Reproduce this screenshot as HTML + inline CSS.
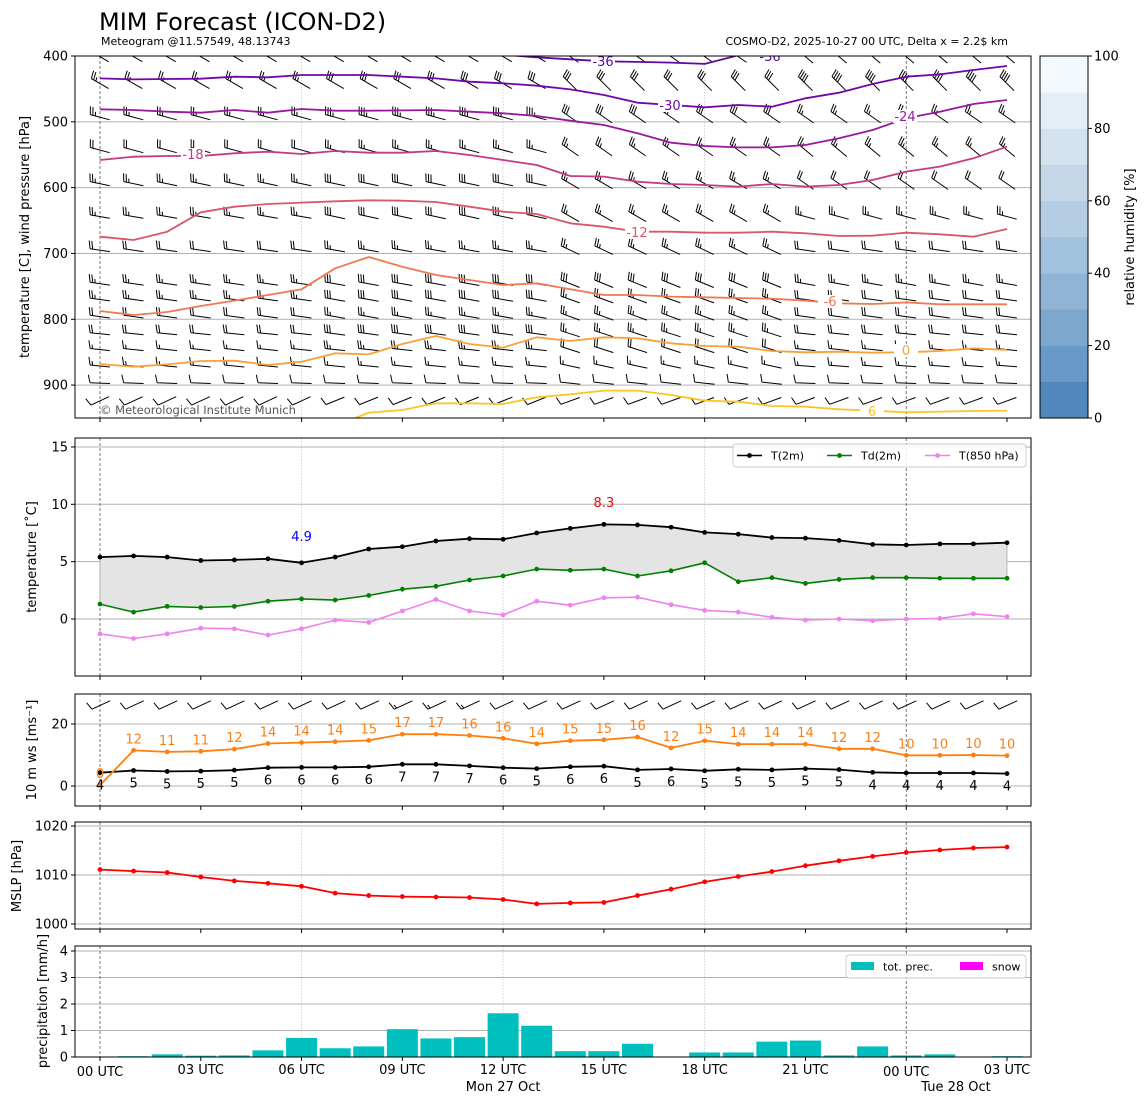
<!DOCTYPE html>
<html><head><meta charset="utf-8">
<style>
html,body{margin:0;padding:0;background:#fff;}
svg{display:block;font-family:"DejaVu Sans","Liberation Sans",sans-serif;}
</style></head>
<body>
<svg id="root" width="1148" height="1105" viewBox="0 0 1148 1105" xmlns="http://www.w3.org/2000/svg">
<defs>
<clipPath id="c1"><rect x="75" y="56" width="956" height="362"/></clipPath>
<clipPath id="c3"><rect x="75" y="694" width="956" height="112"/></clipPath>
</defs>
<text x="99" y="30" font-size="24" fill="#000">MIM Forecast (ICON-D2)</text>
<text x="101" y="45" font-size="11" fill="#000">Meteogram @11.57549, 48.13743</text>
<text x="1008" y="45" font-size="11" fill="#000" text-anchor="end">COSMO-D2, 2025-10-27 00 UTC, Delta x = 2.2$ km</text>
<g id="g1"></g>
<g id="g2"></g>
<g id="g3"></g>
<g id="g4"></g>
<g id="g5"></g>
<g id="gcb"></g>
</svg>
<script>
// ---------- data ----------
const hours = [0,1,2,3,4,5,6,7,8,9,10,11,12,13,14,15,16,17,18,19,20,21,22,23,24,25,26,27];
const t2m = [5.4,5.5,5.4,5.1,5.15,5.25,4.9,5.4,6.1,6.3,6.8,7.0,6.95,7.5,7.9,8.25,8.2,8.0,7.55,7.4,7.1,7.05,6.85,6.5,6.45,6.55,6.55,6.65];
const td2m = [1.3,0.6,1.1,1.0,1.1,1.55,1.75,1.65,2.05,2.6,2.85,3.4,3.75,4.35,4.25,4.35,3.75,4.2,4.9,3.25,3.6,3.1,3.45,3.6,3.6,3.55,3.55,3.55];
const t850 = [-1.3,-1.7,-1.3,-0.8,-0.85,-1.4,-0.85,-0.1,-0.3,0.7,1.7,0.7,0.35,1.55,1.2,1.85,1.9,1.25,0.75,0.6,0.15,-0.1,0,-0.15,0,0.05,0.45,0.2];
const gust = [0.3,11.5,11,11.2,11.9,13.7,14,14.3,14.7,16.7,16.7,16.3,15.4,13.6,14.6,14.9,15.8,12.3,14.6,13.5,13.5,13.5,12,12,9.9,9.9,10,9.8];
const gustLabels = [0,12,11,11,12,14,14,14,15,17,17,16,16,14,15,15,16,12,15,14,14,14,12,12,10,10,10,10];
const ws10 = [4.3,5,4.7,4.8,5.1,5.9,6,6,6.2,7,7,6.5,5.9,5.6,6.2,6.4,5.2,5.5,4.9,5.4,5.2,5.6,5.3,4.4,4.2,4.2,4.2,4.0];
const wsLabels = [4,5,5,5,5,6,6,6,6,7,7,7,6,5,6,6,5,6,5,5,5,5,5,4,4,4,4,4];
const wdir10 = [245,245,245,245,245,245,245,245,245,245,245,245,245,245,245,245,245,245,245,245,245,245,245,245,245,245,245,245];
const mslp = [1011.1,1010.8,1010.5,1009.6,1008.8,1008.3,1007.7,1006.3,1005.8,1005.6,1005.5,1005.4,1005.0,1004.1,1004.3,1004.4,1005.8,1007.1,1008.6,1009.7,1010.7,1011.9,1012.9,1013.8,1014.6,1015.1,1015.5,1015.7];
const precip = [0,0.03,0.1,0.05,0.06,0.25,0.72,0.33,0.4,1.05,0.7,0.75,1.65,1.18,0.22,0.22,0.5,0,0.17,0.17,0.58,0.62,0.06,0.4,0.06,0.1,0,0.03];
const minLabel = {h:6, v:4.9};
const maxLabel = {h:15, v:8.3};
// isotherm contours (pressure hPa per hour)
const iso36Hours = [12,13,14,15,16,17,18,19,20,21,22,23];
const iso36 = [398,402,405,408,409,410,412,399,398,397,396,395];
const iso30 = [434,435.5,435,434.5,431.4,432.4,428.9,428.9,428.9,431.4,434,439,441.5,445.1,450.7,459.3,470.9,474.5,478,474.5,477,464.3,455.7,442.6,431.4,427.9,421.3,415.2];
const iso24 = [481,482.1,484.6,486.1,482.1,486.1,480.5,483.1,483.1,482.6,482.1,484.6,487.1,491.2,498.3,504.8,517.5,531.7,536.7,538.8,538.8,535.2,525.1,512.4,494.7,484.6,472.9,466.9];
const iso18 = [558,553,552,552,547.9,545.4,548.9,544.3,546.9,546.9,544.3,550.4,558,565.6,582.3,583.3,591,594.5,596,598.5,594.5,598.5,596,588.4,575.7,568.1,555.5,537.8];
const iso12 = [674.5,679.5,666.9,637.5,628.9,624.9,622.8,620.8,619.3,619.8,621.8,628.9,636.5,640,654.2,659.3,666.9,666.9,668.4,668.4,666.9,669.4,673.5,673,668.4,670.9,674.5,662.8];
const iso6 = [787.4,793.5,788.9,779.8,771.7,763.1,754.5,722.6,705.4,720.1,732.7,740.3,747.9,745.4,754.5,763.1,763.1,765.6,766.6,767.7,768.7,771.7,775.8,776.8,774.3,777.3,777.3,777.3];
const iso0 = [868,872,868.5,863.4,862.9,869.5,864.4,851.7,853.3,837.5,825.4,837.5,843.1,827.4,833,827.4,828.9,836.5,840.6,841.6,848.2,850.2,849.2,850.7,850.2,848.2,844.1,846.7];
const isoP6Hours = [7,8,9,10,11,12,13,14,15,16,17,18,19,20,21,22,23,24,25,26,27];
const isoP6 = [962,941.9,937.8,927.7,927.7,928.7,918.6,914,908.4,908.4,915,923.6,925.2,931.7,932.8,936.8,938.8,941.4,940.3,939.3,938.8];
// wind barb levels (hPa), direction (from, deg) & speed (kt) per 7h segment
const barbLevels = [401,442,493,543,594,644,695,746,770,796,822,846,871,897,924];
const barbDir = [[300,300,305,310],[300,300,315,315],[285,285,305,305],[285,285,305,310],[282,282,300,305],[280,282,300,285],[278,280,295,278],[278,280,292,280],[278,280,290,278],[278,280,290,278],[276,278,288,276],[276,276,288,276],[276,276,282,274],[272,272,276,272],[245,248,250,250]];
const barbSpd = [[25,25,30,35],[25,30,30,40],[25,35,30,25],[20,25,25,25],[25,30,25,20],[25,30,25,25],[20,25,25,20],[25,30,30,25],[25,30,25,20],[20,25,25,20],[20,30,25,20],[15,25,20,15],[15,15,15,15],[10,10,10,10],[10,10,10,10]];
const tickHours = [0,3,6,9,12,15,18,21,24,27];
const tickNames = ["00 UTC","03 UTC","06 UTC","09 UTC","12 UTC","15 UTC","18 UTC","21 UTC","00 UTC","03 UTC"];
const p1Ticks = [400,500,600,700,800,900];
const p2Ticks = [0,5,10,15];
const p3Ticks = [0,20];
const p4Ticks = [1000,1010,1020];
const p5Ticks = [0,1,2,3,4];
const cbTicks = [0,20,40,60,80,100];

// ---------- helpers ----------
const NS = "http://www.w3.org/2000/svg";
function el(tag, parent){ const e=document.createElementNS(NS,tag); parent.appendChild(e); return e; }
function setA(e, o){ for(const k in o) e.setAttribute(k,o[k]); return e; }
const X = h => 100 + h*33.593;
const L = 75, R = 1031;
const Y1 = p => 56 + (p-400)*362/550;
const Y2 = t => 619 - t*11.47;
const Y3 = v => 786 - v*3.1;
const Y4 = p => 875 - (p-1010)*4.9;
const Y5 = r => 1057 - r*26.5;

function frame(g, top, bot, name){
  const r = el('rect', g);
  setA(r,{x:L,y:top,width:R-L,height:bot-top,fill:'none',stroke:'#000','stroke-width':1});
  
  
}
function vgrid(g, top, bot){
  [0,24].forEach(h=>{
    const l = el('line', g);
    setA(l,{x1:X(h),x2:X(h),y1:top,y2:bot,stroke:'#555','stroke-width':0.8,'stroke-dasharray':'3,2'});
    
    
  });
  [6,12,18].forEach(h=>{
    const l = el('line', g);
    setA(l,{x1:X(h),x2:X(h),y1:top,y2:bot,stroke:'#bbb','stroke-width':0.6,'stroke-dasharray':'1.5,1.5'});
    
    
  });
}
function hgrid(g, ys){
  ys.forEach(y=>{
    const l = el('line', g);
    setA(l,{x1:L,x2:R,y1:y,y2:y,stroke:'#b0b0b0','stroke-width':1});
    
    
  });
}
function yticks(g, vals, fy, fmt){
  vals.forEach(v=>{
    const y = fy(v);
    const t = el('line', g);
    setA(t,{x1:L-4,x2:L,y1:y,y2:y,stroke:'#000'});
    
    
    const tx = el('text', g);
    setA(tx,{x:L-7,y:y+4.5,'font-size':13,'text-anchor':'end'});
    tx.textContent = fmt? fmt(v): v;
    
    
  });
}
function xticks(g, bot){
  tickHours.forEach(h=>{
    const t = el('line', g);
    setA(t,{x1:X(h),x2:X(h),y1:bot,y2:bot+4,stroke:'#000'});
    
    
  });
}
function ylabel(g, x, y, txt){
  const t = el('text', g);
  setA(t,{x:x,y:y,'font-size':13,'text-anchor':'middle',transform:`rotate(-90 ${x} ${y})`});
  t.textContent = txt;
  
  
  return t;
}
function polyline(g, xs, ys, color, w, name){
  const p = el('polyline', g);
  setA(p,{points: xs.map((x,i)=>x.toFixed(1)+','+ys[i].toFixed(1)).join(' '), fill:'none', stroke:color,'stroke-width':w,'stroke-linejoin':'round'});
  
  
  return p;
}
function dots(g, xs, ys, color, r, name){
  xs.forEach((x,i)=>{
    const c = el('circle', g);
    setA(c,{cx:x,cy:ys[i],r:r,fill:color});
    
    
  });
}
function barb(g, cx, cy, dir, spd, len){
  const a = dir*Math.PI/180;
  const dx = Math.sin(a), dy = -Math.cos(a);
  const fx = -dy, fy = dx;
  const x0 = cx - dx*len/2, y0 = cy - dy*len/2;
  const x1 = cx + dx*len/2, y1 = cy + dy*len/2;
  let d = `M${x0.toFixed(1)},${y0.toFixed(1)}L${x1.toFixed(1)},${y1.toFixed(1)}`;
  let n = Math.round(spd/5), pos = 0;
  const fl = len*0.4, sp = len*0.13;
  while(n >= 2){
    const bx = x1 - dx*pos, by = y1 - dy*pos;
    d += `M${bx.toFixed(1)},${by.toFixed(1)}l${(fx*fl+dx*2).toFixed(1)},${(fy*fl+dy*2).toFixed(1)}`;
    pos += sp; n -= 2;
  }
  if(n === 1){
    if(pos===0) pos = sp;
    const bx = x1 - dx*pos, by = y1 - dy*pos;
    d += `M${bx.toFixed(1)},${by.toFixed(1)}l${(fx*fl/2+dx).toFixed(1)},${(fy*fl/2+dy).toFixed(1)}`;
  }
  const p = el('path', g);
  setA(p,{d:d, fill:'none', stroke:'#000','stroke-width':1});
  
  
}

// ---------- panel 1 ----------
const g1 = document.getElementById('g1');
hgrid(g1, [500,600,700,800,900].map(Y1));
vgrid(g1, 56, 418);
const bg1 = el('g', g1); bg1.setAttribute('clip-path','url(#c1)');


barbLevels.forEach((lv,ri)=>{
  hours.forEach(h=>{
    const seg = Math.min(3, Math.floor(h/7));
    barb(bg1, X(h), Y1(lv), barbDir[ri][seg], barbSpd[ri][seg], 20);
  });
});
const cg = el('g', g1); cg.setAttribute('clip-path','url(#c1)');


polyline(cg, iso36Hours.map(X), iso36.map(Y1), '#5c0aa0', 1.8, 'isotherm-minus36');
polyline(cg, hours.map(X), iso30.map(Y1), '#7406a8', 1.8, 'isotherm-minus30');
polyline(cg, hours.map(X), iso24.map(Y1), '#9a179f', 1.8, 'isotherm-minus24');
polyline(cg, hours.map(X), iso18.map(Y1), '#c23b84', 1.8, 'isotherm-minus18');
polyline(cg, hours.map(X), iso12.map(Y1), '#d8576b', 1.8, 'isotherm-minus12');
polyline(cg, hours.map(X), iso6.map(Y1), '#ef7950', 1.8, 'isotherm-minus6');
polyline(cg, hours.map(X), iso0.map(Y1), '#fb9f3a', 1.8, 'isotherm-0');
polyline(cg, isoP6Hours.map(X), isoP6.map(Y1), '#fcc526', 1.8, 'isotherm-6');
[[603,66,'-36','#5c0aa0'],[770,61,'-36','#5c0aa0'],[670,110,'-30','#7406a8'],[905,121,'-24','#9a179f'],[193,159,'-18','#c23b84'],[637,237,'-12','#d8576b'],[830,306,'-6','#ef7950'],[906,355,'0','#fb9f3a'],[872,416,'6','#fcc526']].forEach(a=>{
  const b = el('rect', cg);
  setA(b,{x:a[0]-12,y:a[1]-11,width:24,height:13,fill:'#fff'});
  
  
  const t = el('text', cg);
  setA(t,{x:a[0],y:a[1],'font-size':13,'text-anchor':'middle',fill:a[3]});
  t.textContent = a[2];
  
  
});
const cp = el('text', g1);
setA(cp,{x:100,y:414,'font-size':11.5,fill:'#555'});
cp.textContent = '© Meteorological Institute Munich';


frame(g1, 56, 418, 'panel1-frame');
yticks(g1, p1Ticks, Y1);
xticks(g1, 418);
ylabel(g1, 29, 237, 'temperature [C], wind pressure [hPa]');

// colorbar
const gcb = document.getElementById('gcb');
for(let i=0;i<10;i++){
  const f = i/9;
  const c0=[80,136,188], c1=[244,249,253];
  const c = c0.map((v,k)=>Math.round(v+(c1[k]-v)*Math.pow(f,0.85)));
  const r = el('rect', gcb);
  setA(r,{x:1040,y:418-(i+1)*36.2,width:48,height:36.4,fill:`rgb(${c.join(',')})`});
  
  
}
const cbf = el('rect', gcb);
setA(cbf,{x:1040,y:56,width:48,height:362,fill:'none',stroke:'#000'});


cbTicks.forEach(v=>{
  const y = 418 - v*3.62;
  const t = el('line', gcb);
  setA(t,{x1:1088,x2:1092,y1:y,y2:y,stroke:'#000'});
  
  
  const tx = el('text', gcb);
  setA(tx,{x:1094,y:y+4.5,'font-size':13});
  tx.textContent = v;
  
  
});
ylabel(gcb, 1134, 237, 'relative humidity [%]');

// ---------- panel 2 ----------
const g2 = document.getElementById('g2');
hgrid(g2, p2Ticks.map(Y2));
vgrid(g2, 438, 676);
const fillPts = hours.map((h,i)=>X(h).toFixed(1)+','+Y2(t2m[i]).toFixed(1)).concat(hours.slice().reverse().map((h,j)=>{const i=hours.length-1-j;return X(h).toFixed(1)+','+Y2(td2m[i]).toFixed(1);})).join(' ');
const fp = el('polygon', g2);
setA(fp,{points:fillPts, fill:'#e4e4e4', stroke:'#aaa','stroke-width':0.8});


polyline(g2, hours.map(X), t850.map(Y2), 'violet', 1.6, 't850-line');
dots(g2, hours.map(X), t850.map(Y2), 'violet', 2.4, 't850-point');
polyline(g2, hours.map(X), td2m.map(Y2), 'green', 1.6, 'td2m-line');
dots(g2, hours.map(X), td2m.map(Y2), 'green', 2.4, 'td2m-point');
polyline(g2, hours.map(X), t2m.map(Y2), '#000', 1.8, 't2m-line');
dots(g2, hours.map(X), t2m.map(Y2), '#000', 2.4, 't2m-point');
const mnT = el('text', g2);
setA(mnT,{x:X(minLabel.h),y:Y2(minLabel.v)-22,'font-size':13,'text-anchor':'middle',fill:'blue'});
mnT.textContent = minLabel.v.toFixed(1);


const mxT = el('text', g2);
setA(mxT,{x:X(maxLabel.h),y:Y2(maxLabel.v)-17,'font-size':13,'text-anchor':'middle',fill:'red'});
mxT.textContent = maxLabel.v.toFixed(1);


const lg2 = el('g', g2);


const lb = el('rect', lg2);
setA(lb,{x:733,y:444,width:293,height:23,rx:3,fill:'#fff','fill-opacity':0.85,stroke:'#ccc'});


[[737,'#000','T(2m)'],[827,'green','Td(2m)'],[925,'violet','T(850 hPa)']].forEach(e=>{
  const l = el('line', lg2);
  setA(l,{x1:e[0],x2:e[0]+25,y1:455.5,y2:455.5,stroke:e[1],'stroke-width':1.6});
  
  
  const c = el('circle', lg2);
  setA(c,{cx:e[0]+12.5,cy:455.5,r:2.4,fill:e[1]});
  
  
  const t = el('text', lg2);
  setA(t,{x:e[0]+34,y:459.5,'font-size':11});
  t.textContent = e[2];
  
  
});
frame(g2, 438, 676, 'panel2-frame');
yticks(g2, p2Ticks, Y2);
xticks(g2, 676);
ylabel(g2, 36, 557, 'temperature [˚C]');

// ---------- panel 3 ----------
const g3 = document.getElementById('g3');
hgrid(g3, p3Ticks.map(Y3));
vgrid(g3, 694, 806);
const bg3 = el('g', g3); bg3.setAttribute('clip-path','url(#c3)');


hours.forEach((h,i)=>barb(bg3, X(h)+1, 705, wdir10[i], ws10[i]*1.94, 20));
polyline(g3, hours.map(X), ws10.map(Y3), '#000', 1.8, 'wind-speed-line');
dots(g3, hours.map(X), ws10.map(Y3), '#000', 2.4, 'wind-speed-point');
polyline(g3, hours.map(X), gust.map(Y3), '#ff7f0e', 1.8, 'gust-line');
dots(g3, hours.map(X), gust.map(Y3), '#ff7f0e', 2.4, 'gust-point');
hours.forEach((h,i)=>{
  const t = el('text', g3);
  setA(t,{x:X(h),y:Y3(gust[i])-7,'font-size':13,'text-anchor':'middle',fill:'#ff7f0e'});
  t.textContent = gustLabels[i];
  
  
  const t2 = el('text', g3);
  setA(t2,{x:X(h),y:Y3(ws10[i])+17,'font-size':13,'text-anchor':'middle',fill:'#000'});
  t2.textContent = wsLabels[i];
  
  
});
frame(g3, 694, 806, 'panel3-frame');
yticks(g3, p3Ticks, Y3);
xticks(g3, 806);
ylabel(g3, 36, 750, '10 m ws [ms⁻¹]');

// ---------- panel 4 ----------
const g4 = document.getElementById('g4');
hgrid(g4, p4Ticks.map(Y4));
vgrid(g4, 822, 929);
polyline(g4, hours.map(X), mslp.map(Y4), 'red', 1.8, 'mslp-line');
dots(g4, hours.map(X), mslp.map(Y4), 'red', 2.4, 'mslp-point');
frame(g4, 822, 929, 'panel4-frame');
yticks(g4, p4Ticks, Y4);
xticks(g4, 929);
ylabel(g4, 21, 876, 'MSLP [hPa]');

// ---------- panel 5 ----------
const g5 = document.getElementById('g5');
hgrid(g5, p5Ticks.slice(1).map(Y5));
vgrid(g5, 946, 1057);
hours.forEach((h,i)=>{
  if(precip[i] <= 0) return;
  const r = el('rect', g5);
  setA(r,{x:X(h)-15.5,y:Y5(precip[i]),width:31,height:Math.max(1,1057-Y5(precip[i])),fill:'#00bfbf'});
  
  
});
const lg5 = el('g', g5);


const lb5 = el('rect', lg5);
setA(lb5,{x:846,y:955,width:180,height:23,rx:3,fill:'#fff','fill-opacity':0.85,stroke:'#ccc'});


[[851,'#00bfbf','tot. prec.'],[960,'#ff00ff','snow']].forEach(e=>{
  const r = el('rect', lg5);
  setA(r,{x:e[0],y:962,width:23,height:8,fill:e[1]});
  
  
  const t = el('text', lg5);
  setA(t,{x:e[0]+32,y:970.5,'font-size':11});
  t.textContent = e[2];
  
  
});
frame(g5, 946, 1057, 'panel5-frame');
yticks(g5, p5Ticks, Y5);
xticks(g5, 1057);
ylabel(g5, 47, 1001, 'precipitation [mm/h]');
tickHours.forEach((h,i)=>{
  const t = el('text', g5);
  const isMid = (h===0||h===24);
  setA(t,{x:X(h),y:isMid?1076:1074,'font-size':13,'text-anchor':'middle'});
  t.textContent = tickNames[i];
  
  
});
const d1 = el('text', g5);
setA(d1,{x:X(12),y:1091,'font-size':13,'text-anchor':'middle'});
d1.textContent = 'Mon 27 Oct';


const d2 = el('text', g5);
setA(d2,{x:956,y:1091,'font-size':13,'text-anchor':'middle'});
d2.textContent = 'Tue 28 Oct';


</script>
</body></html>
